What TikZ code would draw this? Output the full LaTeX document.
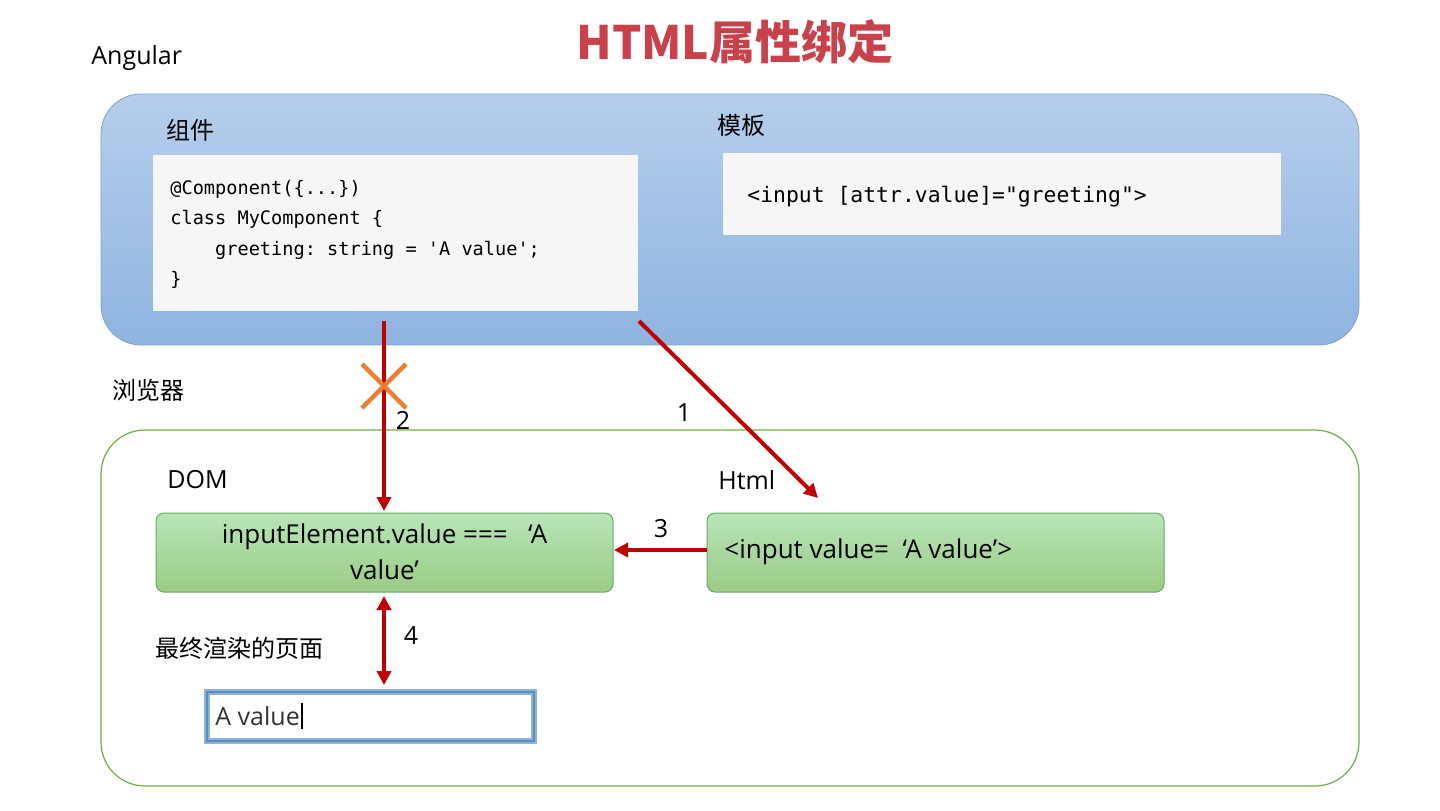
\documentclass[tikz,border=0pt]{standalone}
\usepackage{fontspec}
\setmainfont{Open Sans}
\setmonofont{DejaVu Sans Mono}
\newfontfamily\cjk{Noto Sans CJK SC}
\usetikzlibrary{arrows.meta}
\definecolor{arr}{HTML}{C00000}
\definecolor{ttl}{HTML}{C8414B}
\tikzset{
 lbl/.style={anchor=west,inner sep=0pt,font=\fontsize{12.5}{14}\selectfont},
 clbl/.style={anchor=west,inner sep=0pt,font=\cjk\fontsize{12}{14}\selectfont},
 gbox/.style={draw=green!45!black!60,rounded corners=4pt,top color=green!20!white!90!black,bottom color={rgb,255:red,155;green,203;blue,133},line width=0.5pt},
 rarr/.style={draw=arr,line width=2pt,-{Triangle[length=7pt,width=7pt]}},
 num/.style={inner sep=0pt,font=\fontsize{12.5}{14}\selectfont}
}
\begin{document}
\begin{tikzpicture}[x=0.5pt,y=-0.5pt]
\useasboundingbox (0,0) rectangle (1440,810);
\node[inner sep=0pt,text=ttl,font=\cjk\bfseries\fontsize{23}{26}\selectfont] (title) at (735,42) {HTML属性绑定};
\node[lbl] (ang) at (91,58) {Angular};
\draw[draw={rgb,255:red,127;green,163;blue,208},rounded corners=20pt,top color={rgb,255:red,182;green,206;blue,235},bottom color={rgb,255:red,143;green,180;blue,224}] (101,94) rectangle (1359,345);
\node[clbl] (zj) at (166,130) {组件};
\fill[gray!7] (153,155) rectangle (638,311);
\node[anchor=north west,align=left,inner sep=0pt,font=\ttfamily\fontsize{9.3}{15.2}\selectfont] (code) at (170,180) {@Component(\{...\})\\class MyComponent \{\\\ \ \ \ greeting: string = 'A value';\\\}};
\node[clbl] (mb) at (717,125) {模板};
\fill[gray!7] (723,153) rectangle (1281,235);
\node[anchor=west,inner sep=0pt,font=\ttfamily\fontsize{10.7}{13}\selectfont] (tpl) at (747,197) {<input [attr.value]="greeting">};
\node[clbl] (llq) at (112,390) {浏览器};
\draw[draw={rgb,255:red,112;green,173;blue,71},rounded corners=22pt,line width=0.6pt] (101,430) rectangle (1359,786);
\node[lbl] (domlbl) at (167,480) {DOM};
\node[lbl] (htmllbl) at (718,480) {Html};
\path[gbox] (156,513) rectangle (613,592);
\node[align=center,inner sep=0pt,font=\fontsize{13}{18}\selectfont] (dom) at (384.5,552) {inputElement.value ===\ \ \ ‘A\\value’};
\path[gbox] (707,513) rectangle (1164,592);
\node[anchor=west,inner sep=0pt,font=\fontsize{13}{16}\selectfont] (html) at (724,552) {<input value=\ \ ‘A value'>};
\coordinate (a1s) at (639,321); \coordinate (a1e) at (818,498);
\draw[rarr] (a1s) -- (a1e);
\coordinate (a2s) at (384,321); \coordinate (a2e) at (384,511);
\draw[rarr] (a2s) -- (a2e);
\draw[draw={rgb,255:red,237;green,125;blue,49},line width=2.2pt] (362,364) -- (406,408) (406,364) -- (362,408);
\coordinate (a3s) at (707,550); \coordinate (a3e) at (614,550);
\draw[rarr] (a3s) -- (a3e);
\coordinate (a4s) at (384,596); \coordinate (a4e) at (384,685);
\draw[rarr,{Triangle[length=7pt,width=7pt]}-{Triangle[length=7pt,width=7pt]}] (a4s) -- (a4e);
\node[num] (n1) at (684,413) {1};
\node[num] (n2) at (403,420) {2};
\node[num] (n3) at (661,529) {3};
\node[num] (n4) at (411,636) {4};
\node[clbl] (final) at (155,648) {最终渲染的页面};
\draw[draw={rgb,255:red,140;green,180;blue,215},line width=3pt] (207,692) rectangle (534,741);
\draw[draw={rgb,255:red,90;green,140;blue,190},line width=1pt] (207,692) rectangle (534,741);
\node[anchor=west,inner sep=0pt,text=black!80,font=\fontsize{12.5}{14}\selectfont] (inp) at (215,716) {A value};
\draw[line width=1pt] (inp.east)++(2,-13) -- ++(0,26);
\end{tikzpicture}
\end{document}
